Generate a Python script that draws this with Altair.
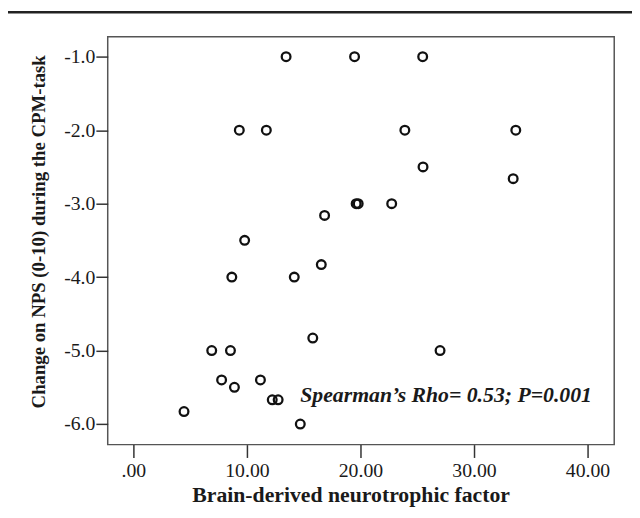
import altair as alt
import pandas as pd

bdnf = [13.45, 19.48, 25.48, 9.33, 11.71, 23.91, 33.68, 25.51, 33.45, 19.62, 19.80,
        22.75, 16.84, 9.80, 8.67, 14.17, 16.55, 15.80, 6.90, 8.55, 27.01, 7.77,
        8.90, 11.19, 12.23, 12.75, 4.46, 14.70]
nps = [-1.0, -1.0, -1.0, -2.0, -2.0, -2.0, -2.0, -2.50, -2.66, -3.0, -3.0,
       -3.0, -3.16, -3.50, -4.0, -4.0, -3.83, -4.83, -5.0, -5.0, -5.0, -5.40,
       -5.50, -5.40, -5.67, -5.67, -5.83, -6.0]
x_ticks = [0, 10, 20, 30, 40]
y_ticks = [-1.0, -2.0, -3.0, -4.0, -5.0, -6.0]
annotation = "Spearman\u2019s Rho= 0.53; P=0.001"

df = pd.DataFrame({"bdnf": bdnf, "nps": nps})
FONT = "Liberation Serif"
INK = "#1a1a1a"

xscale = alt.Scale(domain=[-2.26, 42.35], nice=False, zero=False)
yscale = alt.Scale(domain=[-6.28, -0.73], nice=False, zero=False)

points = alt.Chart(df).mark_point(
    shape="circle", filled=False, size=78, strokeWidth=2.3, color="#111", opacity=1
).encode(
    x=alt.X("bdnf:Q", scale=xscale, axis=alt.Axis(
        values=x_ticks, domain=False, grid=False, tickSize=13, tickWidth=1.5,
        tickColor="#333", labelFont=FONT, labelFontSize=20, labelColor=INK,
        labelPadding=3, labelExpr="datum.value == 0 ? '.00' : format(datum.value, '.2f')",
        title="Brain-derived neurotrophic factor", titleFont=FONT, titleFontSize=22,
        titleFontWeight="bold", titleColor=INK, titleX=246, titleY=58,
        titleBaseline="alphabetic", titleAlign="center")),
    y=alt.Y("nps:Q", scale=yscale, axis=alt.Axis(
        values=y_ticks, domain=False, grid=False, tickSize=12, tickWidth=1.5,
        tickColor="#333", labelFont=FONT, labelFontSize=20, labelColor=INK,
        labelPadding=1, labelExpr="'-' + format(abs(datum.value), '.1f')",
        title="Change on NPS (0-10) during the CPM-task", titleFont=FONT,
        titleFontSize=19, titleFontWeight="bold", titleColor=INK,
        titleAngle=-90, titleX=-64, titleY=197, titleBaseline="alphabetic",
        titleAlign="center")),
)

ann_df = pd.DataFrame({"x": [14.7], "y": [-5.6], "t": [annotation]})
text = alt.Chart(ann_df).mark_text(
    align="left", baseline="middle", font=FONT, fontSize=22, fontStyle="italic",
    fontWeight="bold", color=INK
).encode(x=alt.X("x:Q", scale=xscale), y=alt.Y("y:Q", scale=yscale), text="t:N")

topline = alt.Chart(ann_df).mark_rule(color="#222", strokeWidth=2.5).encode(
    x=alt.value(-101), x2=alt.value(540), y=alt.value(-25)
)

chart = alt.layer(points, text, topline).properties(
    width=513, height=413,
    autosize=alt.AutoSizeParams(type="none"),
    padding={"left": 101, "top": 26, "right": 18, "bottom": 63},
).configure_view(stroke="#555", strokeWidth=1.5)

chart.save("out.html", embed_options={"renderer": "svg", "actions": False})
